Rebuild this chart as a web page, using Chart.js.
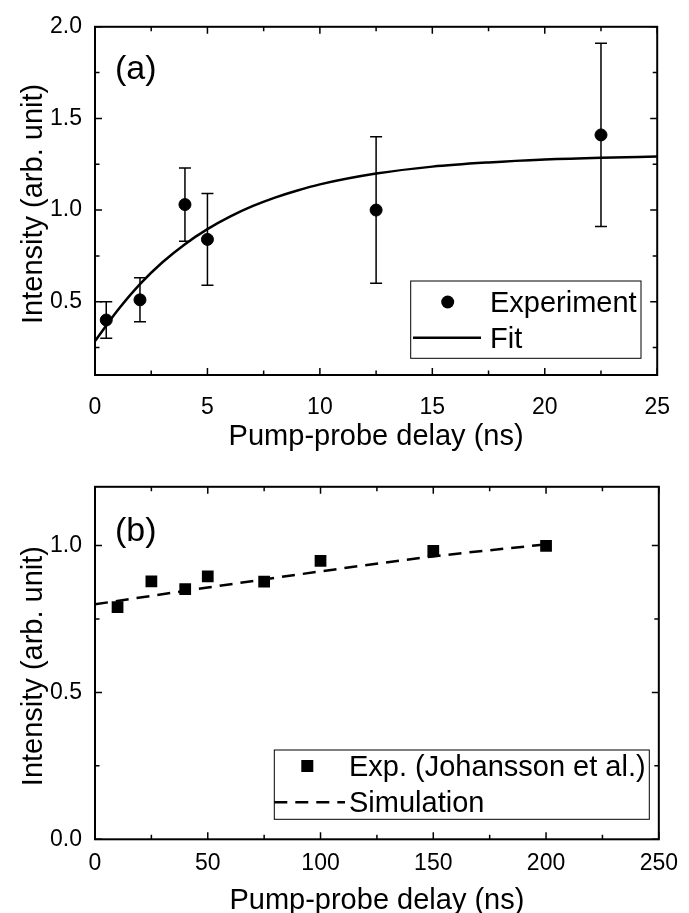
<!DOCTYPE html>
<html><head><meta charset="utf-8">
<script src="https://cdn.jsdelivr.net/npm/chart.js@4.4.0/dist/chart.umd.min.js"></script>
<style>
html,body{margin:0;padding:0;background:#fff;}
#wrap{position:relative;width:689px;height:913px;overflow:hidden;background:#fff;}
.box{position:absolute;left:0;width:689px;}
</style></head><body>
<div id="wrap">
<div class="box" style="top:0;height:460px"><canvas id="c1"></canvas></div>
<div class="box" style="top:460px;height:453px"><canvas id="c2"></canvas></div>
</div>
<script>
// ---- Panel (a) data ----
const expA_x  = [0.5, 2, 4, 5, 12.5, 22.5];
const expA_y  = [0.40, 0.51, 1.03, 0.84, 1.00, 1.41];
const expA_lo = [0.30, 0.39, 0.83, 0.59, 0.60, 0.91];
const expA_hi = [0.50, 0.63, 1.23, 1.09, 1.40, 1.91];
const fitA_x  = [0, 1, 2, 3, 4, 5, 6, 7, 8, 9, 10, 12.5, 15, 17.5, 20, 22.5, 25];
const fitA_y  = [0.285, 0.452, 0.596, 0.715, 0.814, 0.896, 0.964, 1.021, 1.068, 1.107, 1.140, 1.199, 1.237, 1.260, 1.276, 1.286, 1.292];
const xTicksA = [0, 5, 10, 15, 20, 25];
const xMinorA = [2.5, 7.5, 12.5, 17.5, 22.5];
const yTicksA = [0.5, 1.0, 1.5, 2.0];
const yMinorA = [0.25, 0.75, 1.25, 1.75];

// ---- Panel (b) data ----
const expB_x  = [10, 25, 40, 50, 75, 100, 150, 200];
const expB_y  = [0.79, 0.878, 0.852, 0.895, 0.877, 0.948, 0.982, 0.999];
const simB_x  = [0, 50, 100, 150, 200];
const simB_y  = [0.80, 0.857, 0.912, 0.963, 1.004];
const xTicksB = [0, 50, 100, 150, 200, 250];
const xMinorB = [25, 75, 125, 175, 225];
const yTicksB = [0.0, 0.5, 1.0];
const yMinorB = [0.25, 0.75];

const FONT = '"Liberation Sans", Arial, sans-serif';

function pts(xs, ys){ return xs.map((x,i)=>({x:x, y:ys[i]})); }

function decor(cfg){
  return {
    id: 'decor',
    beforeDatasetsDraw(chart){
      if(!cfg.err) return;
      const ctx = chart.ctx, sx = chart.scales.x, sy = chart.scales.y;
      ctx.save();
      ctx.strokeStyle = '#000'; ctx.lineWidth = 1.5;
      cfg.err.xs.forEach((xv,i)=>{
        const px = sx.getPixelForValue(xv);
        const pl = sy.getPixelForValue(cfg.err.lo[i]);
        const ph = sy.getPixelForValue(cfg.err.hi[i]);
        ctx.beginPath();
        ctx.moveTo(px, pl); ctx.lineTo(px, ph);
        ctx.moveTo(px-6, pl); ctx.lineTo(px+6, pl);
        ctx.moveTo(px-6, ph); ctx.lineTo(px+6, ph);
        ctx.stroke();
      });
      ctx.restore();
    },
    afterDraw(chart){
      const ctx = chart.ctx, sx = chart.scales.x, sy = chart.scales.y;
      const a = chart.chartArea;
      ctx.save();
      ctx.strokeStyle = '#000'; ctx.fillStyle = '#000';
      // inward ticks
      ctx.lineWidth = 1.5;
      const tick = (vals, len, horiz) => {
        vals.forEach(v=>{
          ctx.beginPath();
          if(horiz){
            const p = sx.getPixelForValue(v);
            ctx.moveTo(p, a.bottom); ctx.lineTo(p, a.bottom-len);
            ctx.moveTo(p, a.top); ctx.lineTo(p, a.top+len);
          } else {
            const p = sy.getPixelForValue(v);
            ctx.moveTo(a.left, p); ctx.lineTo(a.left+len, p);
            ctx.moveTo(a.right, p); ctx.lineTo(a.right-len, p);
          }
          ctx.stroke();
        });
      };
      tick(cfg.xMajor, 7, true); tick(cfg.xMinor, 4.5, true);
      tick(cfg.yMajor, 7, false); tick(cfg.yMinor, 4.5, false);
      // frame
      ctx.lineWidth = 2;
      ctx.strokeRect(a.left, a.top, a.right-a.left, a.bottom-a.top);
      // panel label
      ctx.font = '34px ' + FONT;
      ctx.textAlign = 'left'; ctx.textBaseline = 'alphabetic';
      ctx.fillText(cfg.panel, 115, cfg.panelY);
      // legend
      const L = cfg.legend;
      ctx.lineWidth = 1;
      ctx.strokeRect(L.x0, L.y0, L.x1-L.x0, L.y1-L.y0);
      ctx.font = '29px ' + FONT;
      L.items.forEach(it=>{
        if(it.type === 'circle'){
          ctx.beginPath(); ctx.arc(it.mx, it.my, 6.5, 0, Math.PI*2); ctx.fill();
        } else if(it.type === 'square'){
          ctx.fillRect(it.mx-6, it.my-6, 12, 12);
        } else {
          ctx.save();
          ctx.lineWidth = 2.5;
          if(it.type === 'dash') ctx.setLineDash([13, 8]);
          ctx.beginPath(); ctx.moveTo(it.lx0, it.my); ctx.lineTo(it.lx1, it.my); ctx.stroke();
          ctx.restore();
        }
        ctx.fillText(it.text, it.tx, it.ty);
      });
      // axis titles
      ctx.font = '29px ' + FONT;
      ctx.textAlign = 'center';
      ctx.fillText('Pump-probe delay (ns)', (a.left+a.right)/2, cfg.xTitleY);
      ctx.save();
      ctx.translate(41.5, (a.top+a.bottom)/2 + 3);
      ctx.rotate(-Math.PI/2);
      ctx.fillText('Intensity (arb. unit)', 0, 0);
      ctx.restore();
      ctx.restore();
    }
  };
}

function makeChart(id, o){
  return new Chart(document.getElementById(id), {
    type: 'scatter',
    data: { datasets: o.datasets },
    options: {
      responsive: true, maintainAspectRatio: false, animation: false,
      layout: { padding: o.padding },
      plugins: { legend: {display:false}, tooltip: {enabled:false} },
      scales: {
        x: {
          type: 'linear', min: o.xMin, max: o.xMax,
          grid: {display:false, drawTicks:false}, border: {display:false},
          afterBuildTicks: s => { s.ticks = o.dec.xMajor.map(v=>({value:v})); },
          afterFit: s => { s.height = o.xH; },
          ticks: { color:'#000', padding: o.xPad, font:{family:FONT, size:23}, maxRotation:0, autoSkip:false,
                   callback: v => String(v) }
        },
        y: {
          type: 'linear', min: o.yMin, max: o.yMax,
          grid: {display:false, drawTicks:false}, border: {display:false},
          afterBuildTicks: s => { s.ticks = o.dec.yMajor.map(v=>({value:v})); },
          afterFit: s => { s.width = 95; },
          ticks: { color:'#000', padding: 13, font:{family:FONT, size:23}, autoSkip:false,
                   callback: v => Number(v).toFixed(1) }
        }
      }
    },
    plugins: [decor(o.dec)]
  });
}

makeChart('c1', {
  xMin: 0, xMax: 25, yMin: 0.1, yMax: 2.0,
  padding: {left:0, right:22.3, top:20.7, bottom:0},
  xH: 85, xPad: 19,
  datasets: [
    { data: pts(fitA_x, fitA_y), showLine: true, tension: 0, cubicInterpolationMode: 'monotone',
      borderColor: '#000', borderWidth: 2.5, pointRadius: 0, fill: false },
    { data: pts(expA_x, expA_y), showLine: false, pointStyle: 'circle', pointRadius: 6,
      pointBorderWidth: 1, pointBackgroundColor: '#000', pointBorderColor: '#000' }
  ],
  dec: {
    panel: '(a)', panelY: 79, xTitleY: 445,
    xMajor: xTicksA, xMinor: xMinorA, yMajor: yTicksA, yMinor: yMinorA,
    err: { xs: expA_x, lo: expA_lo, hi: expA_hi },
    legend: { x0: 410.7, y0: 281, x1: 641, y1: 358.3, items: [
      { type:'circle', mx: 447.7, my: 302, text: 'Experiment', tx: 490, ty: 312 },
      { type:'line', lx0: 413, lx1: 481, my: 337.7, text: 'Fit', tx: 490, ty: 348 }
    ]}
  }
});

makeChart('c2', {
  xMin: 0, xMax: 250, yMin: 0, yMax: 1.2,
  padding: {left:0, right:22.3, top:25, bottom:0},
  xH: 73.7, xPad: 11,
  datasets: [
    { data: pts(simB_x, simB_y), showLine: true, tension: 0, cubicInterpolationMode: 'monotone',
      borderColor: '#000', borderWidth: 2.5, borderDash: [13, 8], pointRadius: 0, fill: false },
    { data: pts(expB_x, expB_y), showLine: false, pointStyle: 'rect', pointRadius: 8.3,
      pointBorderWidth: 0, pointBackgroundColor: '#000', pointBorderColor: '#000' }
  ],
  dec: {
    panel: '(b)', panelY: 81, xTitleY: 449,
    xMajor: xTicksB, xMinor: xMinorB, yMajor: yTicksB, yMinor: yMinorB,
    err: null,
    legend: { x0: 274.3, y0: 290, x1: 649.3, y1: 359.3, items: [
      { type:'square', mx: 307.3, my: 306, text: 'Exp. (Johansson et al.)', tx: 349, ty: 315.5 },
      { type:'dash', lx0: 274.3, lx1: 345, my: 342.3, text: 'Simulation', tx: 349, ty: 352 }
    ]}
  }
});
</script>
</body></html>
